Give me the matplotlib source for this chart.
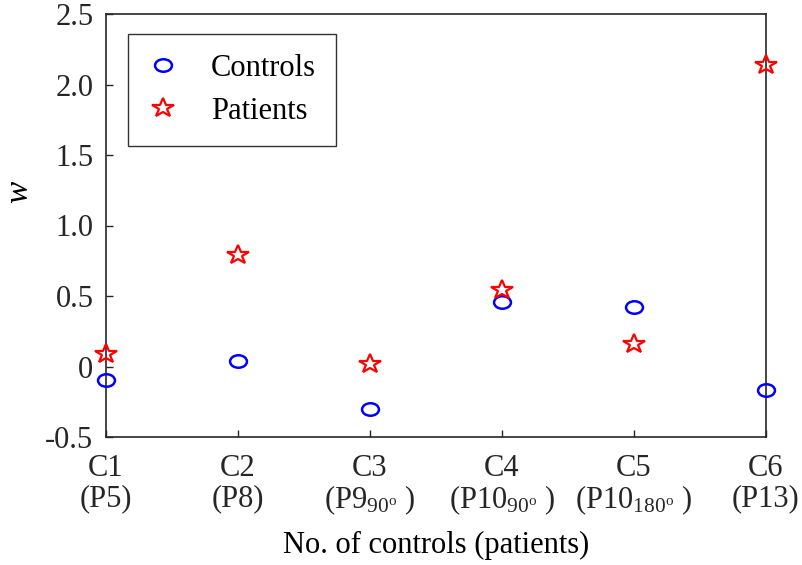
import matplotlib
matplotlib.use("Agg")
import matplotlib.pyplot as plt
from matplotlib.markers import MarkerStyle
from matplotlib.transforms import Affine2D

plt.rcParams['font.family'] = ['Liberation Serif', 'DejaVu Serif']
plt.rcParams['mathtext.fontset'] = 'custom'
plt.rcParams['mathtext.rm'] = 'Liberation Serif'
plt.rcParams['mathtext.it'] = 'Liberation Serif:italic'

positions = [1, 2, 3, 4, 5, 6]
tick_labels = ['C1\n(P5)', 'C2\n(P8)', 'C3\n(P9$_{\\mathrm{90^o}}$ )', 'C4\n(P10$_{\\mathrm{90^o}}$ )',
               'C5\n(P10$_{\\mathrm{180^o}}$ )', 'C6\n(P13)']
controls = [-0.095, 0.04, -0.30, 0.46, 0.42, -0.165]
patients = [0.09, 0.79, 0.02, 0.545, 0.16, 2.14]
yticks = [-0.5, 0, 0.5, 1.0, 1.5, 2.0, 2.5]
yticklabels = ['-0.5', '0', '0.5', '1.0', '1.5', '2.0', '2.5']

FS = 22
fig = plt.figure(figsize=(8.03, 5.65), dpi=100)
ax = fig.add_axes([106/803, 1-437/565, 660/803, 423/565])

circ = MarkerStyle('o', transform=Affine2D().scale(1.35, 1.0))
star = MarkerStyle('*', transform=Affine2D().scale(1.15, 1.0))
ax.plot(positions, controls, linestyle='none', marker=circ, markersize=9,
        markerfacecolor='none', markeredgecolor='#0000ff', markeredgewidth=1.8,
        label='Controls', clip_on=False, zorder=3)
ax.plot(positions, patients, linestyle='none', marker=star, markersize=15,
        markerfacecolor='none', markeredgecolor='#ff0000', markeredgewidth=1.6,
        label='Patients', clip_on=False, zorder=3)

ax.set_xlim(1, 6)
ax.set_ylim(-0.5, 2.5)
ax.set_xticks(positions)
ax.set_xticklabels(tick_labels, fontsize=FS, linespacing=1.05)
ax.set_yticks(yticks)
ax.set_yticklabels(yticklabels, fontsize=FS)
ax.tick_params(direction='in', length=5, width=1, colors='#262626', pad=9)
ax.tick_params(axis='x', pad=12)
for s in ax.spines.values():
    s.set_linewidth(1.2)
    s.set_color('#262626')

ax.set_xlabel('No. of controls (patients)', fontsize=FS, labelpad=10)
ax.set_ylabel('$w$', fontsize=FS + 2, rotation=90)
ax.yaxis.set_label_coords(-0.108, 0.58)

leg = ax.legend(loc='upper left', bbox_to_anchor=(22/660, 1-20/423), fontsize=FS,
                frameon=True, fancybox=False, edgecolor='black', borderpad=0.65,
                handletextpad=1.08, labelspacing=0.46, handlelength=0.98, borderaxespad=0)
leg.get_frame().set_linewidth(1.0)

fig.savefig('out.png', dpi=100)
